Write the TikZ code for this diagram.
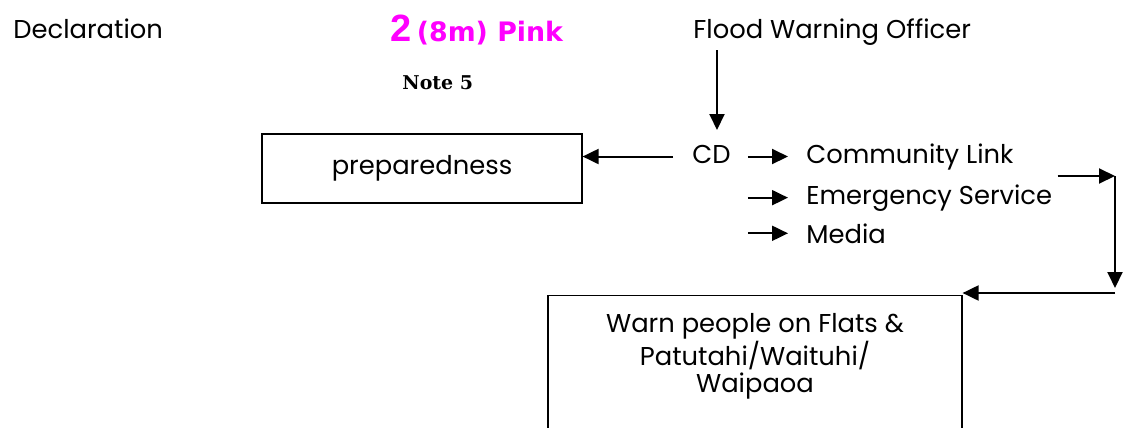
\documentclass[tikz,border=0pt]{standalone}
\usepackage{fontspec}
\setmainfont{Poppins}
\newfontfamily\levelfont{DejaVu Sans}
\newfontfamily\numfont{Liberation Sans}
\newfontfamily\notefont{DejaVu Serif}
\usepackage{xcolor}
\definecolor{levelpink}{HTML}{FF00FF}
\usetikzlibrary{arrows.meta,positioning}

\tikzset{
  lbl/.style={inner sep=0pt,font=\fontsize{12.9}{13.6}\selectfont},
  box/.style={draw,line width=0.6pt,inner sep=0pt},
  arr/.style={line width=1pt,-{Triangle[length=8pt,width=7.5pt]}}
}

\begin{document}
\begin{tikzpicture}[x=0.5pt,y=-0.5pt]
      \clip (0,0) rectangle (1125,428);

      % headings along the top
      \node[lbl,anchor=base west] (decl) at (13,39) {Declaration};
      \node[inner sep=0pt,anchor=base west,text=levelpink] (level) at (390,41)
        {{\numfont\bfseries\fontsize{19}{22}\selectfont 2}
         {\levelfont\bfseries\fontsize{13.4}{16}\selectfont (8m) Pink}};
      \node[inner sep=0pt,anchor=base west,font=\notefont\bfseries\fontsize{9.5}{11}\selectfont]
        (note) at (402,89) {Note 5};
      \node[lbl,anchor=base west] (officer) at (693,39) {Flood Warning Officer};

      % CD and who it tells
      \node[lbl,anchor=base west] (cd) at (692,163) {CD};
      \node[box,lbl,minimum width=160pt,minimum height=34.5pt] (prep) at (422,168.5) {preparedness};
      \node[lbl,anchor=base west] (link) at (806,163) {Community Link};
      \node[lbl,anchor=base west] (emerg) at (806,204) {Emergency Service};
      \node[lbl,anchor=base west] (media) at (806,243) {Media};

      \draw[arr] (717,50) -- (717,130);
      \draw[arr] ([xshift=-9.5pt]cd.west |- link.west) -- (link.west -| prep.east);
      \draw[arr] ([xshift=8.5pt]cd.east |- link.west) -- ([xshift=-9pt]link.west);
      \draw[arr] ([xshift=8.5pt]cd.east |- emerg.west) -- ([xshift=-9pt]emerg.west);
      \draw[arr] ([xshift=8.5pt]cd.east |- media.west) -- ([xshift=-9pt]media.west);

      % warning box, open at the bottom edge
      \node[box,minimum width=207pt,minimum height=100pt,anchor=north] (warn) at (755,295) {};
      \node[lbl,align=center,below=9pt of warn.north] (warntxt)
        {Warn people on Flats \&\\Patutahi/Waituhi/\\Waipaoa};

      \coordinate (turn1) at (1115,176);
      \coordinate (turn2) at (1115,293);
      \draw[arr] ([xshift=2.5pt]emerg.east |- turn1) -- (turn1);
      \draw[arr] (turn1) -- ([yshift=2.5pt]turn2);
      \draw[arr] (turn2) -- (turn2 -| warn.east);

    \end{tikzpicture}
\end{document}
